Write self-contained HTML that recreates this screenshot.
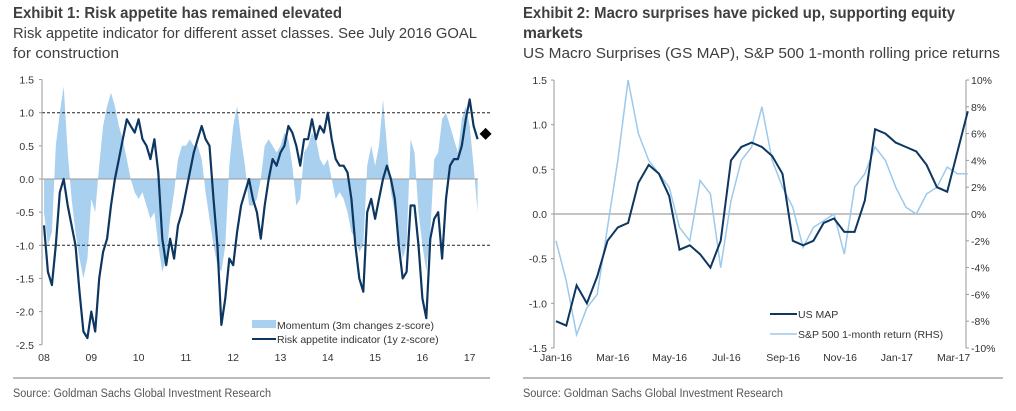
<!DOCTYPE html>
<html><head><meta charset="utf-8"><style>
body{margin:0;background:#fff;}
svg{display:block;font-family:"Liberation Sans Narrow","Liberation Sans",sans-serif;}
.t{font-weight:bold;font-size:16px;fill:#3f3f3f}
.s{font-size:15px;fill:#3f3f3f}
.tk{font-family:"Liberation Sans",sans-serif;font-size:10.5px;fill:#333}
.src{font-size:11.5px;fill:#555}
</style></head><body>
<svg id="svg" width="1016" height="411" viewBox="0 0 1016 411">
<text class="t" x="13" y="18" textLength="329" lengthAdjust="spacingAndGlyphs">Exhibit 1: Risk appetite has remained elevated</text>
<text class="s" x="13" y="38" textLength="464" lengthAdjust="spacingAndGlyphs">Risk appetite indicator for different asset classes. See July 2016 GOAL</text>
<text class="s" x="13" y="58" textLength="106" lengthAdjust="spacingAndGlyphs">for construction</text>
<text class="t" x="523" y="18" textLength="432" lengthAdjust="spacingAndGlyphs">Exhibit 2: Macro surprises have picked up, supporting equity</text>
<text class="t" x="523" y="38" textLength="60" lengthAdjust="spacingAndGlyphs">markets</text>
<text class="s" x="523" y="58" textLength="477" lengthAdjust="spacingAndGlyphs">US Macro Surprises (GS MAP), S&amp;P 500 1-month rolling price returns</text>
<line x1="13" y1="378" x2="490" y2="378" stroke="#777"/>
<line x1="523" y1="378" x2="1003" y2="378" stroke="#777"/>
<text class="src" x="13" y="397" textLength="258" lengthAdjust="spacingAndGlyphs">Source: Goldman Sachs Global Investment Research</text>
<text class="src" x="523" y="397" textLength="260" lengthAdjust="spacingAndGlyphs">Source: Goldman Sachs Global Investment Research</text>
<g id="c1"></g>
<g id="c2"></g>
</svg>
<script>
const riskAppetite=[-0.7,-1.4,-1.6,-1.0,-0.2,0.0,-0.4,-0.7,-1.0,-1.7,-2.3,-2.4,
-2.0,-2.3,-1.5,-1.1,-0.9,-0.4,0.0,0.3,0.6,0.9,0.8,0.7,
0.9,0.6,0.5,0.3,0.6,0.1,-0.9,-1.3,-0.9,-1.2,-0.7,-0.5,
-0.2,0.1,0.4,0.6,0.8,0.6,0.5,-0.3,-1.0,-2.2,-1.8,-1.2,
-1.3,-0.8,-0.4,-0.2,0.0,-0.3,-0.5,-0.9,-0.4,0.0,0.3,0.2,
0.4,0.5,0.8,0.7,0.5,0.2,0.6,0.6,0.9,0.6,0.8,0.7,
1.0,0.6,0.3,0.2,0.2,0.1,-0.3,-1.0,-1.5,-1.7,-0.5,-0.3,
-0.6,-0.3,0.0,0.2,0.0,-0.3,-1.0,-1.5,-1.4,-0.4,-0.4,-1.0,
-1.8,-2.1,-0.9,-0.6,-0.5,-1.2,-0.3,0.2,0.3,0.3,0.5,0.9,
1.2,0.8,0.6];
const momentum=[-0.5,-1.0,-0.8,0.5,1.0,1.4,0.4,-0.3,-0.8,-1.2,-1.5,-1.2,
-0.3,-0.5,0.2,0.8,1.1,1.3,1.1,0.8,0.6,0.3,0.0,-0.2,
-0.3,-0.2,-0.4,-0.6,-0.5,-1.0,-1.4,-1.2,-0.6,-0.2,0.3,0.5,
0.5,0.6,0.5,0.5,0.3,-0.2,-0.6,-1.0,-1.3,-1.4,-1.0,0.2,
0.8,1.1,0.6,0.2,-0.4,-0.4,-0.3,0.0,0.5,0.6,0.5,0.4,
0.5,0.7,0.6,0.2,-0.4,-0.3,0.4,0.5,0.7,0.6,0.3,0.2,
0.3,0.0,-0.3,-0.2,-0.3,-0.5,-0.8,-0.9,-1.1,-1.0,0.2,0.5,
0.2,0.5,1.2,0.5,-0.2,-0.5,-0.9,-1.2,-1.0,0.6,0.4,-0.5,
-1.0,-1.4,-0.8,0.3,0.4,0.9,1.0,0.8,0.6,0.4,0.9,1.1,
0.8,0.2,-0.5];
const latestRisk=0.68;
const yearLabels=["08","09","10","11","12","13","14","15","16","17"];
const y1Ticks=[1.5,1.0,0.5,0.0,-0.5,-1.0,-1.5,-2.0,-2.5];

const usMap=[-1.2,-1.25,-0.8,-1.0,-0.7,-0.3,-0.15,-0.1,0.35,0.55,0.45,0.2,-0.4,-0.35,-0.45,-0.6,-0.3,0.6,0.75,0.8,0.75,0.65,0.45,-0.3,-0.35,-0.3,-0.1,-0.05,-0.2,-0.2,0.15,0.95,0.9,0.8,0.75,0.7,0.55,0.3,0.25,0.7,1.15];
const spxReturn=[-2,-5,-9,-7,-6,-1,4,10,6,4,3,2,-1,-2,2.5,1.5,-4,1,4,5,8,4,2,0.5,-2.5,-1,-0.5,0,-3,2,3,5,4,2,0.5,0,1.5,2,3.5,3,3];
const monthLabels=["Jan-16","Mar-16","May-16","Jul-16","Sep-16","Nov-16","Jan-17","Mar-17"];
const y2Ticks=[1.5,1.0,0.5,0.0,-0.5,-1.0,-1.5];
const y2RTicks=[10,8,6,4,2,0,-2,-4,-6,-8,-10];

const NS="http://www.w3.org/2000/svg";
function mk(p,tag,at){const e=document.createElementNS(NS,tag);for(const k in at)e.setAttribute(k,at[k]);p.appendChild(e);return e;}

// Chart 1
const c1=document.getElementById('c1');
const x1=m=>44+m*(47.3/12);
const y1=v=>179-v*66.3;
let d="M"+x1(0)+","+y1(0);
momentum.forEach((v,i)=>{d+=" L"+x1(i).toFixed(1)+","+y1(v).toFixed(1);});
d+=" L"+x1(momentum.length-1)+","+y1(0)+"Z";
let e=mk(c1,'path',{d:d,fill:'#a9d0ee'});


e=mk(c1,'line',{x1:42,y1:y1(0),x2:478,y2:y1(0),stroke:'#999'});


[1,-1].forEach(v=>{e=mk(c1,'line',{x1:42,y1:y1(v),x2:490,y2:y1(v),stroke:'#222','stroke-dasharray':'3,2'});

});
e=mk(c1,'line',{x1:42,y1:y1(1.5),x2:42,y2:y1(-2.5),stroke:'#999'});


y1Ticks.forEach(v=>{e=mk(c1,'text',{x:34,y:y1(v)+4,'text-anchor':'end',class:'tk'});e.textContent=v.toFixed(1);


mk(c1,'line',{x1:39,y1:y1(v),x2:42,y2:y1(v),stroke:'#999'});});
yearLabels.forEach((l,i)=>{e=mk(c1,'text',{x:x1(i*12),y:361,'text-anchor':'middle',class:'tk'});e.textContent=l;

});
e=mk(c1,'polyline',{points:riskAppetite.map((v,i)=>x1(i).toFixed(1)+","+y1(v).toFixed(1)).join(" "),fill:'none',stroke:'#0d3660','stroke-width':2.2,'stroke-linejoin':'round'});


const dx=x1(riskAppetite.length-1)+8,dy=y1(latestRisk);
e=mk(c1,'path',{d:`M${dx-6},${dy} L${dx},${dy-6} L${dx+6},${dy} L${dx},${dy+6}Z`,fill:'#000'});


e=mk(c1,'rect',{x:252,y:320,width:24,height:8,fill:'#a9d0ee'});


e=mk(c1,'text',{x:277,y:329,class:'tk'});e.textContent="Momentum (3m changes z-score)";


e=mk(c1,'line',{x1:252,y1:339,x2:276,y2:339,stroke:'#0d3660','stroke-width':2});


e=mk(c1,'text',{x:277,y:343,class:'tk'});e.textContent="Risk appetite indicator (1y z-score)";



// Chart 2
const c2=document.getElementById('c2');
const x2=m=>556+m*28.4;
const y2=v=>214-v*89.3;
const y2r=v=>214-v*13.4;
const step=14.5/(usMap.length-1);
e=mk(c2,'line',{x1:554,y1:y2(0),x2:966,y2:y2(0),stroke:'#888'});


e=mk(c2,'line',{x1:554,y1:80,x2:554,y2:348,stroke:'#999'});


e=mk(c2,'line',{x1:966,y1:80,x2:966,y2:348,stroke:'#999'});


y2Ticks.forEach(v=>{e=mk(c2,'text',{x:547,y:y2(v)+4,'text-anchor':'end',class:'tk'});e.textContent=v.toFixed(1);


mk(c2,'line',{x1:551,y1:y2(v),x2:554,y2:y2(v),stroke:'#999'});});
y2RTicks.forEach(v=>{e=mk(c2,'text',{x:971,y:y2r(v)+4,class:'tk'});e.textContent=v+"%";


mk(c2,'line',{x1:966,y1:y2r(v),x2:969,y2:y2r(v),stroke:'#999'});});
monthLabels.forEach((l,i)=>{e=mk(c2,'text',{x:x2(i*2),y:361,'text-anchor':'middle',class:'tk'});e.textContent=l;

});
e=mk(c2,'polyline',{points:spxReturn.map((v,i)=>x2(i*step).toFixed(1)+","+y2r(v).toFixed(1)).join(" "),fill:'none',stroke:'#9cc9ec','stroke-width':1.5});


e=mk(c2,'polyline',{points:usMap.map((v,i)=>x2(i*step).toFixed(1)+","+y2(v).toFixed(1)).join(" "),fill:'none',stroke:'#0d3660','stroke-width':2});


e=mk(c2,'line',{x1:770,y1:314,x2:797,y2:314,stroke:'#0d3660','stroke-width':2});


e=mk(c2,'text',{x:798,y:318,class:'tk'});e.textContent="US MAP";


e=mk(c2,'line',{x1:770,y1:334,x2:797,y2:334,stroke:'#9cc9ec','stroke-width':1.5});


e=mk(c2,'text',{x:798,y:338,class:'tk'});e.textContent="S&P 500 1-month return (RHS)";


</script>
</body></html>
